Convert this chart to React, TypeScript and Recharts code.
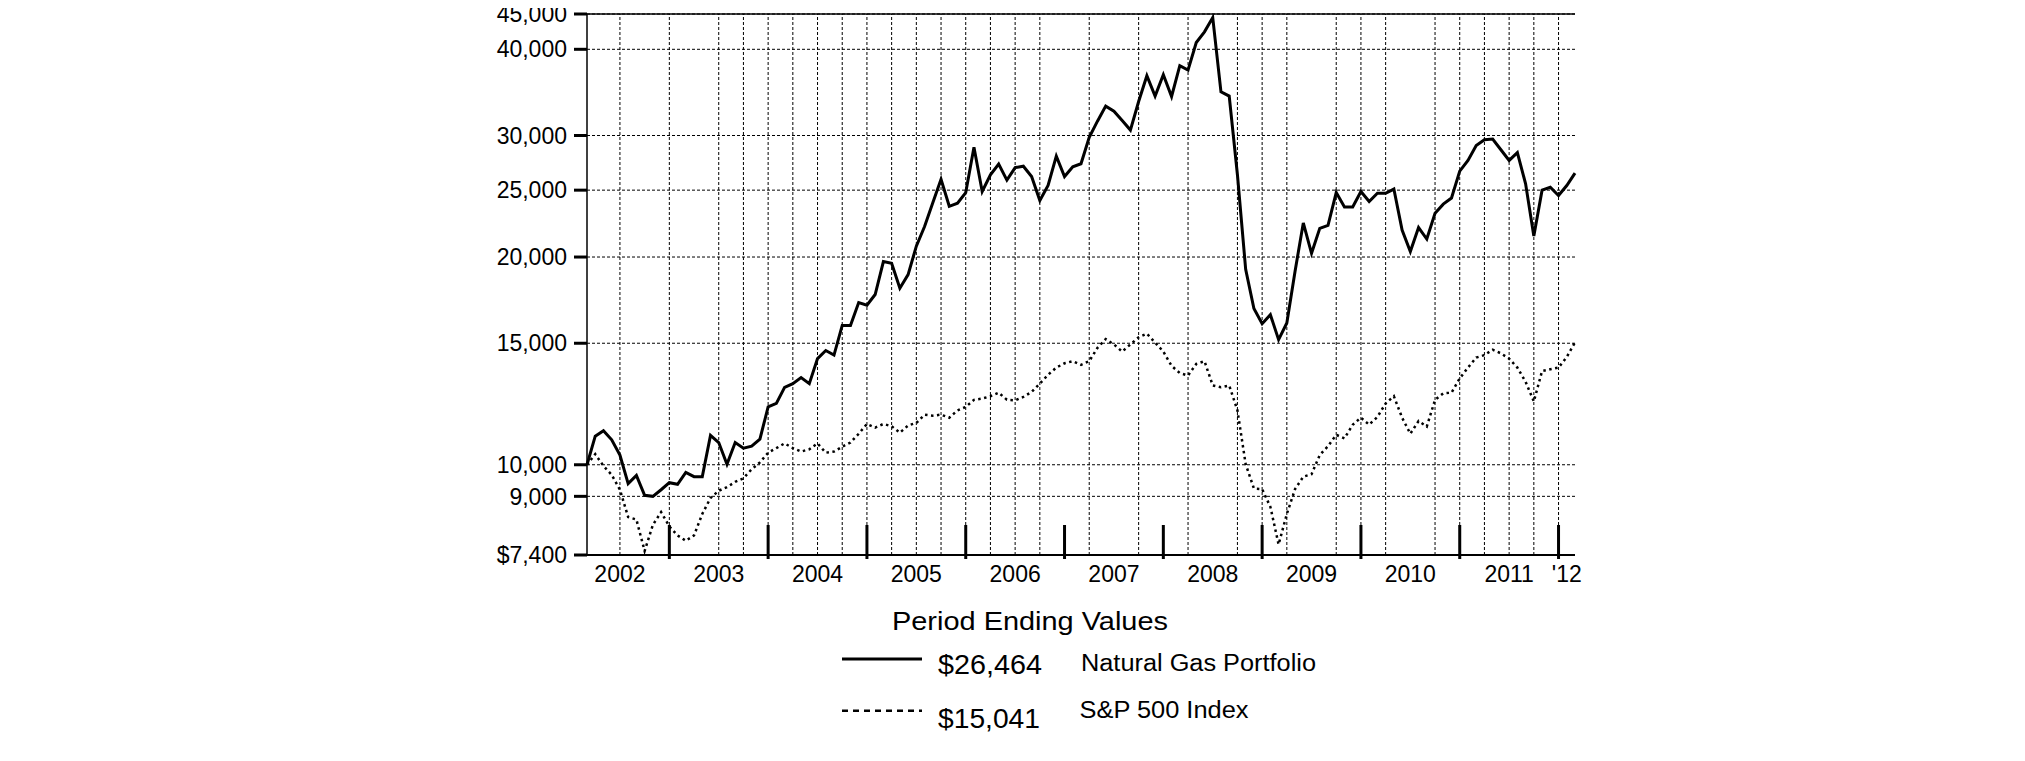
import React from 'react';
import { LineChart, Line, XAxis, YAxis, CartesianGrid, ReferenceLine } from 'recharts';

const FONT = '"Liberation Sans", Arial, Helvetica, sans-serif';

// Month index 0 = Feb 2002 ... 120 = Feb 2012
const naturalGasValues = [
  10000, 11000, 11200, 10870, 10330, 9390, 9650, 9030, 9000, 9200,
  9420, 9370, 9750, 9610, 9610, 11030, 10770, 10020, 10770, 10570,
  10640, 10890, 12130, 12270, 12950, 13110, 13380, 13110, 14250, 14640,
  14420, 15920, 15920, 17180, 17030, 17650, 19700, 19590, 18020, 18860,
  20740, 22140, 23980, 25920, 23690, 23930, 24800, 28850, 24890, 26320,
  27280, 25850, 26950, 27080, 26160, 24150, 25390, 28010, 26160, 27020,
  27300, 29830, 31470, 33090, 32540, 31550, 30550, 33610, 36620, 34220,
  36750, 34170, 37870, 37320, 40910, 42400, 44460, 34710, 34220, 26320,
  19200, 16840, 16010, 16500, 15180, 16050, 19080, 22410, 20250, 22010,
  22230, 24800, 23640, 23640, 24890, 24070, 24740, 24740, 25090, 21880,
  20370, 22070, 21240, 23140, 23860, 24350, 26640, 27610, 29020, 29580,
  29650, 28610, 27610, 28340, 25540, 21450, 25000, 25240, 24560, 25390,
  26464,
];

const sp500Values = [
  10000, 10360, 9960, 9670, 9200, 8400, 8330, 7500, 8180, 8540,
  8140, 7900, 7760, 7900, 8485, 8950, 9170, 9280, 9445, 9560,
  9850, 10080, 10410, 10570, 10740, 10570, 10450, 10530, 10740, 10410,
  10450, 10620, 10770, 11090, 11460, 11320, 11460, 11370, 11130, 11400,
  11500, 11820, 11780, 11820, 11700, 11990, 12130, 12420, 12470, 12570,
  12720, 12420, 12400, 12540, 12750, 13110, 13500, 13830, 14030, 14130,
  13960, 14130, 14770, 15210, 14940, 14590, 14940, 15300, 15490, 15030,
  14590, 13910, 13580, 13470, 14000, 14130, 13030, 12950, 13030, 11990,
  10020, 9240, 9220, 8690, 7665, 8485, 9220, 9610, 9690, 10330,
  10640, 11050, 10920, 11430, 11700, 11430, 11730, 12270, 12570, 11700,
  11090, 11570, 11360, 12420, 12690, 12720, 13340, 13830, 14300, 14420,
  14680, 14500, 14250, 13830, 13190, 12350, 13670, 13750, 13830, 14330,
  15041,
];

const yTicks = [7400, 9000, 10000, 15000, 20000, 25000, 30000, 40000, 45000];
const yearLabels = ['2002', '2003', '2004', '2005', '2006', '2007', '2008', '2009', '2010', '2011', "'12"];
const yearLabelMonths = [4, 16, 28, 40, 52, 64, 76, 88, 100, 112, 119];
const yearEndMonths = [10, 22, 34, 46, 58, 70, 82, 94, 106, 118];
const gridMonths = [4, 10, 16, 19, 22, 25, 28, 31, 34, 37, 40, 43, 46, 49, 52, 55, 61, 67, 73, 79, 82, 85, 91, 94, 97, 103, 106, 109, 112, 115, 118];

const seriesNames = ['Natural Gas Portfolio', 'S&P 500 Index'];
const legendTitle = 'Period Ending Values';

const data = naturalGasValues.map((v, i) => ({ m: i, ng: v, sp: sp500Values[i] }));

const fmtY = (v: number) => (v === 7400 ? '$' : '') + v.toLocaleString('en-US');
const fmtX = (v: number) => {
  const idx = yearLabelMonths.indexOf(v);
  return idx >= 0 ? yearLabels[idx] : '';
};
const fmtDollar = (v: number) => '$' + v.toLocaleString('en-US');

const YearTick = (props: any) => {
  const { x1, y1, x2, y2 } = props;
  const bottom = Math.max(y1, y2);
  return <line x1={x1} x2={x2} y1={bottom - 30} y2={bottom + 4} stroke="#000" strokeWidth={3} />;
};

export default function App() {
  const W = 2009;
  const lastNG = naturalGasValues[naturalGasValues.length - 1];
  const lastSP = sp500Values[sp500Values.length - 1];
  return (
    <div style={{ position: 'relative', marginTop: -8, width: W, height: 761, fontFamily: FONT, background: '#fff' }}>
      <LineChart
        width={W}
        height={608}
        data={data}
        margin={{ top: 14, right: 442, left: 499, bottom: 13 }}
      >
        <CartesianGrid vertical={false} stroke="#000" strokeDasharray="3 2" strokeWidth={1} />
        {gridMonths.map((m) => (
          <ReferenceLine key={'g' + m} x={m} stroke="#000" strokeDasharray="3 2" strokeWidth={1} />
        ))}
        <ReferenceLine y={45000} stroke="#000" strokeWidth={1.5} />
        {yearEndMonths.map((m) => (
          <ReferenceLine key={'t' + m} x={m} shape={YearTick} />
        ))}
        <XAxis
          dataKey="m"
          type="number"
          domain={[0, 120]}
          ticks={yearLabelMonths}
          interval={0}
          tickFormatter={fmtX}
          tickLine={false}
          tickSize={0}
          tickMargin={11}
          height={40}
          axisLine={{ stroke: '#000', strokeWidth: 2 }}
          tick={{ fontSize: 23, fill: '#000', fontFamily: FONT }}
        />
        <YAxis
          type="number"
          scale="log"
          domain={[7400, 45000]}
          allowDataOverflow
          ticks={yTicks}
          interval={0}
          tickFormatter={fmtY}
          width={80}
          tickSize={13}
          tickMargin={7}
          tickLine={{ stroke: '#000', strokeWidth: 3 }}
          axisLine={{ stroke: '#000', strokeWidth: 1.5 }}
          tick={{ fontSize: 23, fill: '#000', fontFamily: FONT }}
        />
        <Line
          dataKey="sp"
          name={seriesNames[1]}
          stroke="#000"
          strokeWidth={2.5}
          strokeDasharray="2.5 3.5"
          dot={false}
          isAnimationActive={false}
        />
        <Line
          dataKey="ng"
          name={seriesNames[0]}
          stroke="#000"
          strokeWidth={3}
          dot={false}
          isAnimationActive={false}
        />
      </LineChart>
      <svg
        width={W}
        height={761}
        style={{ position: 'absolute', left: 0, top: 0, pointerEvents: 'none' }}
      >
        <text x={884} y={630} fontSize={26} textLength={276} lengthAdjust="spacingAndGlyphs" fontFamily={FONT} fill="#000">{legendTitle}</text>
        <line x1={834} x2={914} y1={659} y2={659} stroke="#000" strokeWidth={3} />
        <text x={930} y={674} fontSize={28} textLength={104} lengthAdjust="spacingAndGlyphs" fontFamily={FONT} fill="#000">{fmtDollar(lastNG)}</text>
        <text x={1073} y={670.7} fontSize={23.5} textLength={235} lengthAdjust="spacingAndGlyphs" fontFamily={FONT} fill="#000">{seriesNames[0]}</text>
        <line x1={834} x2={914} y1={710.7} y2={710.7} stroke="#000" strokeWidth={2.5} strokeDasharray="6 5" />
        <text x={930} y={728.3} fontSize={28} textLength={102} lengthAdjust="spacingAndGlyphs" fontFamily={FONT} fill="#000">{fmtDollar(lastSP)}</text>
        <text x={1071.5} y={717.7} fontSize={23.5} textLength={169} lengthAdjust="spacingAndGlyphs" fontFamily={FONT} fill="#000">{seriesNames[1]}</text>
      </svg>
    </div>
  );
}
